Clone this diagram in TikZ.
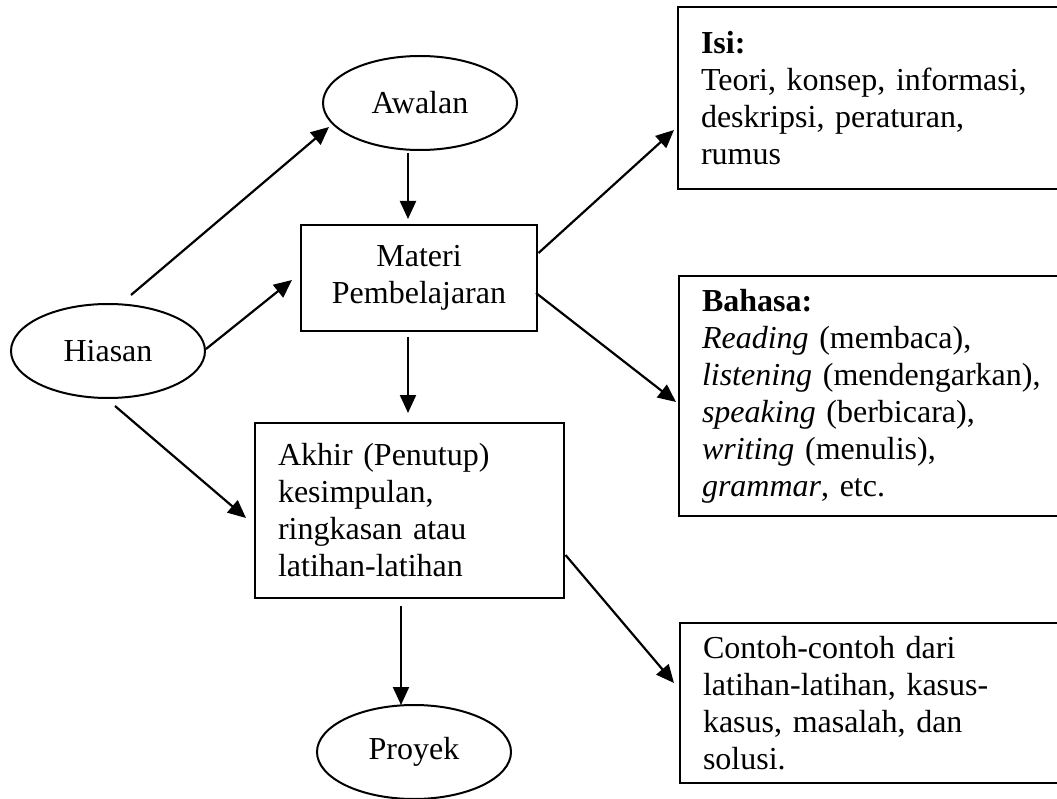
\documentclass[tikz,border=0pt]{standalone}
\usepackage{fontspec}
\setmainfont{Liberation Serif}
\usetikzlibrary{arrows.meta,calc,shapes.geometric}
\tikzset{
  base/.style={draw=black, line width=2pt, font=\fontsize{32}{37}\selectfont, inner sep=0pt},
  oval/.style={base, ellipse, minimum width=194pt, minimum height=94pt},
  tbox/.style={base, rectangle, align=left, inner xsep=23pt},
  arr/.style={line width=2.2pt, -{Triangle[length=18pt,width=16pt]}}
}
\begin{document}
\begin{tikzpicture}[x=1pt,y=-1pt]
\useasboundingbox (0,0) rectangle (1057,799);
\node[oval] (awalan) at (420,103) {Awalan};
\node[oval] (hiasan) at (108,351) {Hiasan};
\node[oval] (proyek) at (414,752) {Proyek};
\node[base, rectangle, align=center, minimum width=236pt, minimum height=106pt] (materi) at (419,278) {Materi\\Pembelajaran};
\node[tbox, minimum width=309pt, minimum height=175pt, text width=263pt] (akhir) at (409.5,510.5) {Akhir (Penutup)\\kesimpulan,\\ringkasan atau\\latihan-latihan};
\node[tbox, minimum width=408pt, minimum height=182pt, text width=362pt] (isi) at (882,98) {\textbf{Isi:}\\Teori, konsep, informasi,\\deskripsi, peraturan,\\rumus};
\node[tbox, minimum width=408pt, minimum height=240pt, text width=362pt] (bahasa) at (883,396) {\textbf{Bahasa:}\\\textit{Reading} (membaca),\\\textit{listening} (mendengarkan),\\\textit{speaking} (berbicara),\\\textit{writing} (menulis),\\\textit{grammar}, etc.};
\node[tbox, minimum width=408pt, minimum height=160pt, text width=362pt] (contoh) at (884,703) {Contoh-contoh dari\\latihan-latihan, kasus-\\kasus, masalah, dan\\solusi.};
\draw[arr] ($(awalan.south)+(-12,2)$) -- ($(materi.north)+(-11,-5)$);
\draw[arr] ($(hiasan.center)+(23,-56)$) -- ($(awalan.center)+(-91,24)$);
\draw[arr] ($(hiasan.east)+(0,-2)$) -- ($(materi.west)+(-8,2)$);
\draw[arr] ($(hiasan.center)+(7,55)$) -- ($(akhir.west)+(-8,7.5)$);
\draw[arr] ($(materi.south)+(-11,5)$) -- ($(akhir.north)+(-1.5,-9)$);
\draw[arr] ($(akhir.south)+(-8.5,7)$) -- ($(proyek.north)+(-13,1)$);
\draw[arr] ($(materi.east)+(0.5,-25)$) -- ($(isi.west)+(-3,32)$);
\draw[arr] ($(materi.east)+(-2,15)$) -- ($(bahasa.west)+(-2,6)$);
\draw[arr] ($(akhir.east)+(0.5,44.5)$) -- ($(contoh.west)+(-5,-20)$);
\end{tikzpicture}
\end{document}
